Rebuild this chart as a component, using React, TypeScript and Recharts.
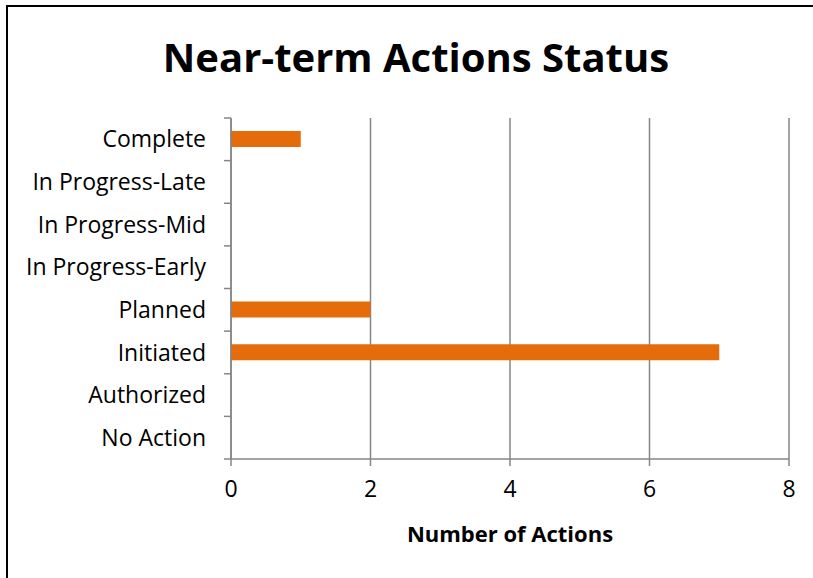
import { Bar, BarChart, CartesianGrid, XAxis, YAxis } from "recharts";

const categories = [
  "Complete",
  "In Progress-Late",
  "In Progress-Mid",
  "In Progress-Early",
  "Planned",
  "Initiated",
  "Authorized",
  "No Action",
];
const actionCounts = [1, 0, 0, 0, 2, 7, 0, 0];
const xTicks = [0, 2, 4, 6, 8];

const data = categories.map((status, i) => ({ status, count: actionCounts[i] }));

const FONT = "'Open Sans', sans-serif";
const AXIS = "#868686";

const W = 813;
const H = 578;
const M = { top: 118, right: 24, bottom: 0, left: 8 };
const Y_AXIS_W = 223;
const X_AXIS_H = 119;
const AXIS_X = M.left + Y_AXIS_W;
const BAND = (H - M.top - X_AXIS_H) / categories.length;

// Excel-style category ticks: marks sit on band edges, not band centres
function CategoryTick(props: any) {
  const { x, y, payload, index } = props;
  const last = index === categories.length - 1;
  return (
    <g>
      <line
        x1={AXIS_X - 7}
        x2={AXIS_X}
        y1={y - BAND / 2}
        y2={y - BAND / 2}
        stroke={AXIS}
        strokeWidth={1.5}
      />
      {last && (
        <line
          x1={AXIS_X - 7}
          x2={AXIS_X}
          y1={y + BAND / 2}
          y2={y + BAND / 2}
          stroke={AXIS}
          strokeWidth={1.5}
        />
      )}
      <text
        x={x}
        y={y}
        dy="0.355em"
        textAnchor="end"
        fill="#000"
        fontSize={23}
        fontFamily={FONT}
      >
        {payload.value}
      </text>
    </g>
  );
}

export default function App() {
  return (
    <div
      style={{
        position: "fixed",
        left: 0,
        top: 0,
        width: W,
        height: H,
        background: "#fff",
        overflow: "hidden",
        fontFamily: FONT,
      }}
    >
      <div
        style={{
          position: "absolute",
          left: 6,
          top: 5,
          width: 900,
          height: 700,
          borderLeft: "2px solid #000",
          borderTop: "2px solid #000",
        }}
      />
      <div
        style={{
          position: "absolute",
          left: 0,
          width: 832,
          top: 29,
          textAlign: "center",
          fontSize: 40,
          fontWeight: 700,
          color: "#000",
        }}
      >
        Near-term Actions Status
      </div>
      <div style={{ position: "absolute", left: 0, top: 0 }}>
        <BarChart width={W} height={H} data={data} layout="vertical" margin={M}>
          <CartesianGrid
            horizontal={false}
            stroke={AXIS}
            strokeWidth={1.5}
            yAxisId="cat"
          />
          <XAxis
            type="number"
            domain={[0, 8]}
            ticks={xTicks}
            interval={0}
            stroke={AXIS}
            strokeWidth={1.5}
            tickSize={7}
            tick={{ fill: "#000", fontSize: 23, fontFamily: FONT }}
            tickMargin={15}
            height={X_AXIS_H}
            label={{
              value: "Number of Actions",
              position: "insideTop",
              offset: 67,
              fill: "#000",
              fontSize: 22,
              fontWeight: 700,
              fontFamily: FONT,
            }}
          />
          <YAxis
            yAxisId="cat"
            type="category"
            dataKey="status"
            width={Y_AXIS_W}
            stroke={AXIS}
            strokeWidth={1.5}
            tickLine={false}
            interval={0}
            tickMargin={19}
            tick={<CategoryTick />}
          />
          <Bar
            yAxisId="cat"
            dataKey="count"
            fill="#E46C0A"
            barSize={16}
            isAnimationActive={false}
          />
        </BarChart>
      </div>
    </div>
  );
}
